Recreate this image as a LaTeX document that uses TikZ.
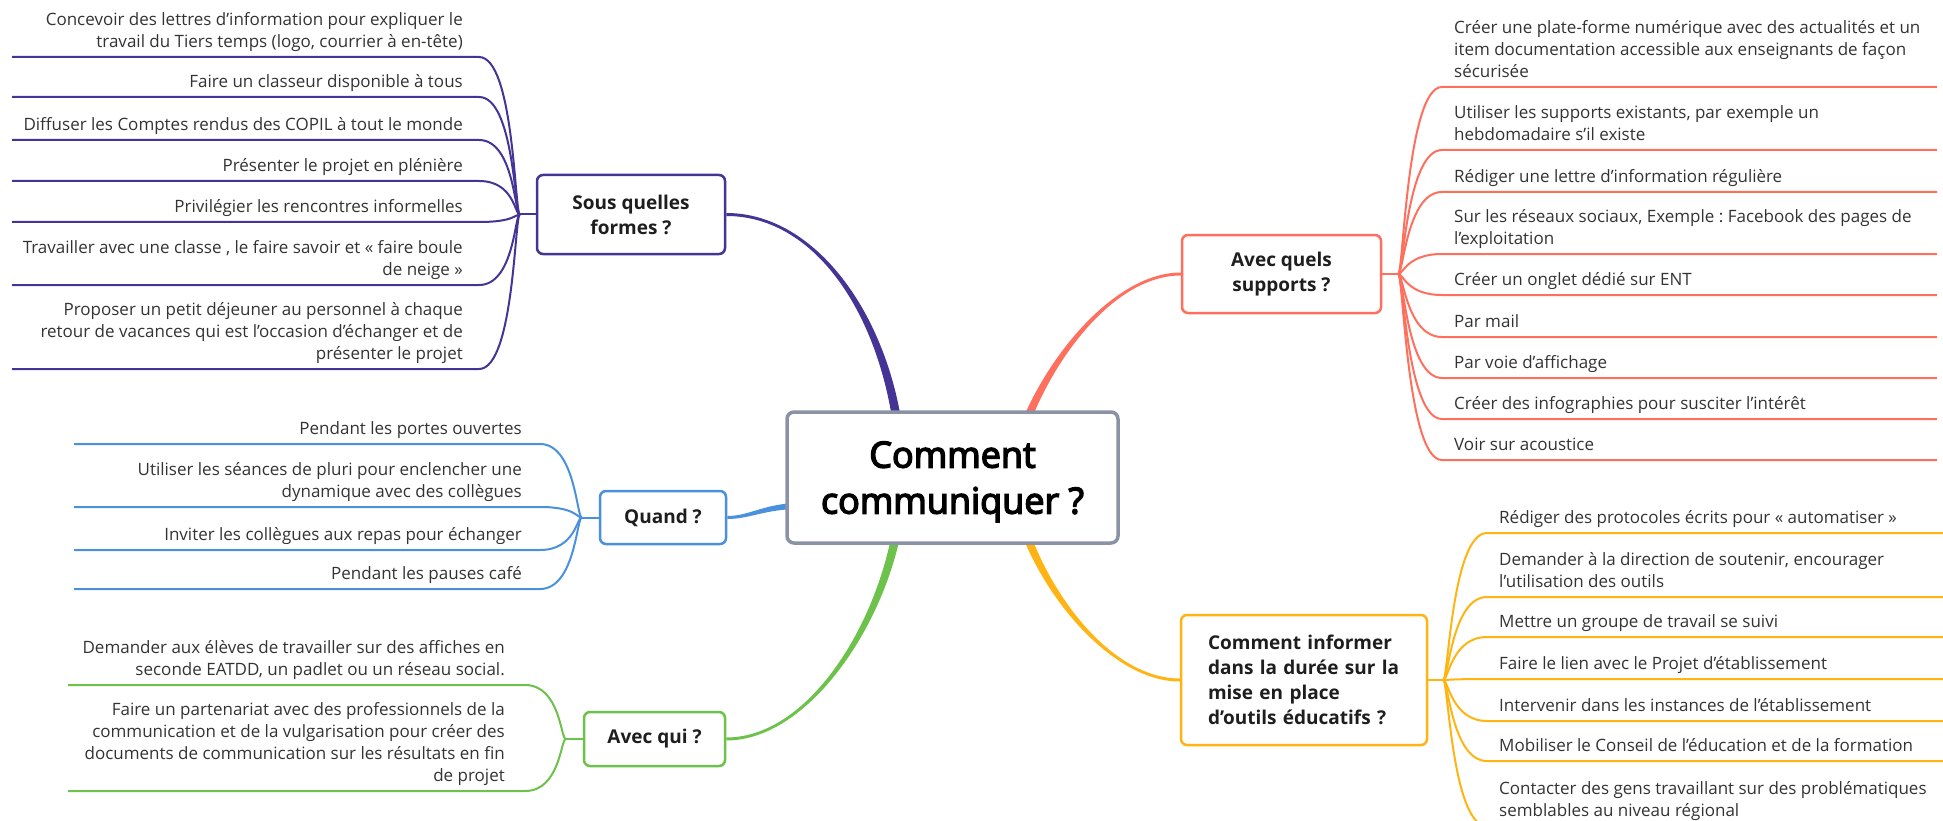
\documentclass[tikz,border=0pt]{standalone}
\usepackage{fontspec}
\setmainfont{Open Sans}
\newfontfamily\gruesa[FakeBold=4]{Open Sans}
\usetikzlibrary{calc,backgrounds}
\frenchspacing

\definecolor{morado}{RGB}{69,52,150}
\definecolor{coral}{RGB}{255,111,94}
\definecolor{ambar}{RGB}{255,180,20}
\definecolor{azul}{RGB}{74,144,221}
\definecolor{verde}{RGB}{108,194,74}
\definecolor{pizarra}{RGB}{138,147,166}
\definecolor{tinta}{RGB}{30,30,30}
\definecolor{gris}{RGB}{51,51,51}

\tikzset{
  central/.style={draw=pizarra, line width=3.5pt, rounded corners=7pt, fill=white,
    minimum width=331pt, minimum height=131pt, align=center, text=black,
    text depth=-3pt, font=\fontsize{36}{46}\gruesa},
  tema/.style={draw=#1, line width=2.5pt, rounded corners=6pt, fill=white,
    align=center, text=tinta, font=\fontsize{19}{25}\selectfont\bfseries},
  item/.style={inner sep=0pt, text=gris, text depth=0pt,
    font=\fontsize{17}{22}\selectfont},
  itemL/.style={item, anchor=south east, align=right},
  itemR/.style={item, anchor=south west, align=left},
  rama/.style={draw=#1, line width=2pt}
}

% tronco grueso: color, (centro), control, control, (tema), ancho tema, ancho centro
\newcommand{\tronco}[7]{%
  \fill[#1] ($#2+#7$) .. controls ($#3+#7$) and ($#4+#6$) .. ($#5+#6$)
    -- ($#5-#6$) .. controls ($#4-#6$) and ($#3-#7$) .. ($#2-#7$) -- cycle;}

\begin{document}
\begin{tikzpicture}[x=1pt,y=-1pt]
   \useasboundingbox (0,0) rectangle (1943,821);
   %nodo central
   \node[central] (c) at (952.5,477.5) {Comment\\communiquer ?};
   %temas
   \node[tema=morado, minimum width=188pt, minimum height=79pt] (f) at (631,214.5) {Sous quelles\\formes ?};
   \node[tema=azul, minimum width=126pt, minimum height=53pt] (q) at (663,517.5) {Quand ?};
   \node[tema=verde, minimum width=141pt, minimum height=54pt] (w) at (654.5,739) {Avec qui ?};
   \node[tema=coral, minimum width=199pt, minimum height=78pt] (s) at (1281.5,274) {Avec quels\\supports ?};
   \node[tema=ambar, minimum width=246pt, minimum height=130pt, align=left, text width=192pt] (i) at (1304,680)
      {Comment informer\\dans la durée sur la\\mise en place\\d’outils éducatifs ?};
   %puntos de reparto
   \coordinate (hf) at ($(f.west)+(-16,0)$);
   \coordinate (hq) at ($(q.west)+(-17,0)$);
   \coordinate (hw) at ($(w.west)+(-17,0)$);
   \coordinate (hs) at ($(s.east)+(16,0)$);
   \coordinate (hi) at ($(i.east)+(15,0)$);
   \coordinate (cf) at (900,445);
   \coordinate (cq) at (800,506);
   \coordinate (cw) at (900,510);
   \coordinate (cs) at (1018,445);
   \coordinate (ci) at (1018,510);
   %troncos
   \begin{scope}[on background layer]
      \tronco{morado}{(cf)}{(888,320)}{(818,214.5)}{(f.east)}{(0,-1.5)}{(4.5,0)}
      \tronco{azul}{(cq)}{(765,506)}{(750,517.5)}{(q.east)}{(0,-1.5)}{(0,-3)}
      \tronco{verde}{(cw)}{(888,615)}{(812,739)}{(w.east)}{(0,-1.5)}{(-4.5,0)}
      \tronco{coral}{(cs)}{(1040,370)}{(1110,274)}{(s.west)}{(0,1.5)}{(4.5,0)}
      \tronco{ambar}{(ci)}{(1040,590)}{(1110,680)}{(i.west)}{(0,1.5)}{(-4.5,0)}
      \draw[rama=morado] (f.west) -- (hf);
      \draw[rama=azul] (q.west) -- (hq);
      \draw[rama=verde] (w.west) -- (hw);
      \draw[rama=coral] (s.east) -- (hs);
      \draw[rama=ambar] (i.east) -- (hi);
   \end{scope}
   %sous quelles formes
   \foreach \y/\t [count=\i] in {
      57/{Concevoir des lettres d’information pour expliquer le\\travail du Tiers temps (logo, courrier à en-tête)},
      97/{Faire un classeur disponible à tous},
      140/{Diffuser les Comptes rendus des COPIL à tout le monde},
      181/{Présenter le projet en plénière},
      222/{Privilégier les rencontres informelles},
      285/{Travailler avec une classe , le faire savoir et « faire boule\\de neige »},
      369/{Proposer un petit déjeuner au personnel à chaque\\retour de vacances qui est l’occasion d’échanger et de\\présenter le projet}}{
      \coordinate (f\i) at (479,\y);
      \coordinate (f\i-a) at (12,\y);
      \node[itemL] (tf\i) at (463,\y-9) {\t};
      \begin{pgfonlayer}{background}
         \draw[rama=morado] (hf) .. controls +(-5,0) and +(35,0) .. (f\i) -- (f\i-a);
      \end{pgfonlayer}
   }
   %quand
   \foreach \y/\t [count=\i] in {
      444/{Pendant les portes ouvertes},
      507/{Utiliser les séances de pluri pour enclencher une\\dynamique avec des collègues},
      550/{Inviter les collègues aux repas pour échanger},
      589/{Pendant les pauses café}}{
      \coordinate (q\i) at (540,\y);
      \coordinate (q\i-a) at (74,\y);
      \node[itemL] (tq\i) at (522,\y-9) {\t};
      \begin{pgfonlayer}{background}
         \draw[rama=azul] (hq) .. controls +(-5,0) and +(35,0) .. (q\i) -- (q\i-a);
      \end{pgfonlayer}
   }
   %avec qui
   \foreach \y/\t [count=\i] in {
      685/{Demander aux élèves de travailler sur des affiches en\\seconde EATDD, un padlet ou un réseau social.},
      791/{Faire un partenariat avec des professionnels de la\\communication et de la vulgarisation pour créer des\\documents de communication sur les résultats en fin\\de projet}}{
      \coordinate (w\i) at (525,\y);
      \coordinate (w\i-a) at (68,\y);
      \node[itemL] (tw\i) at (505,\y-9) {\t};
      \begin{pgfonlayer}{background}
         \draw[rama=verde] (hw) .. controls +(-5,0) and +(35,0) .. (w\i) -- (w\i-a);
      \end{pgfonlayer}
   }
   %avec quels supports
   \foreach \y/\t [count=\i] in {
      87/{Créer une plate-forme numérique avec des actualités et un\\item documentation accessible aux enseignants de façon\\sécurisée},
      150/{Utiliser les supports existants, par exemple un\\hebdomadaire s’il existe},
      192/{Rédiger une lettre d’information régulière},
      254/{Sur les réseaux sociaux, Exemple : Facebook des pages de\\l’exploitation},
      295/{Créer un onglet dédié sur ENT},
      337/{Par mail},
      378/{Par voie d’affichage},
      419/{Créer des infographies pour susciter l’intérêt},
      460/{Voir sur acoustice}}{
      \coordinate (s\i) at (1442,\y);
      \coordinate (s\i-a) at (1937,\y);
      \node[itemR] (ts\i) at (1454,\y-9) {\t};
      \begin{pgfonlayer}{background}
         \draw[rama=coral] (hs) .. controls +(5,0) and +(-35,0) .. (s\i) -- (s\i-a);
      \end{pgfonlayer}
   }
   %comment informer
   \foreach \y/\t [count=\i] in {
      533/{Rédiger des protocoles écrits pour « automatiser »},
      597/{Demander à la direction de soutenir, encourager\\l’utilisation des outils},
      637/{Mettre un groupe de travail se suivi},
      679/{Faire le lien avec le Projet d’établissement},
      721/{Intervenir dans les instances de l'établissement},
      761/{Mobiliser le Conseil de l’éducation et de la formation},
      826/{Contacter des gens travaillant sur des problématiques\\semblables au niveau régional}}{
      \coordinate (i\i) at (1487,\y);
      \coordinate (i\i-a) at (1943,\y);
      \node[itemR] (ti\i) at (1499,\y-9) {\t};
      \begin{pgfonlayer}{background}
         \draw[rama=ambar] (hi) .. controls +(5,0) and +(-35,0) .. (i\i) -- (i\i-a);
      \end{pgfonlayer}
   }
\end{tikzpicture}
\end{document}
